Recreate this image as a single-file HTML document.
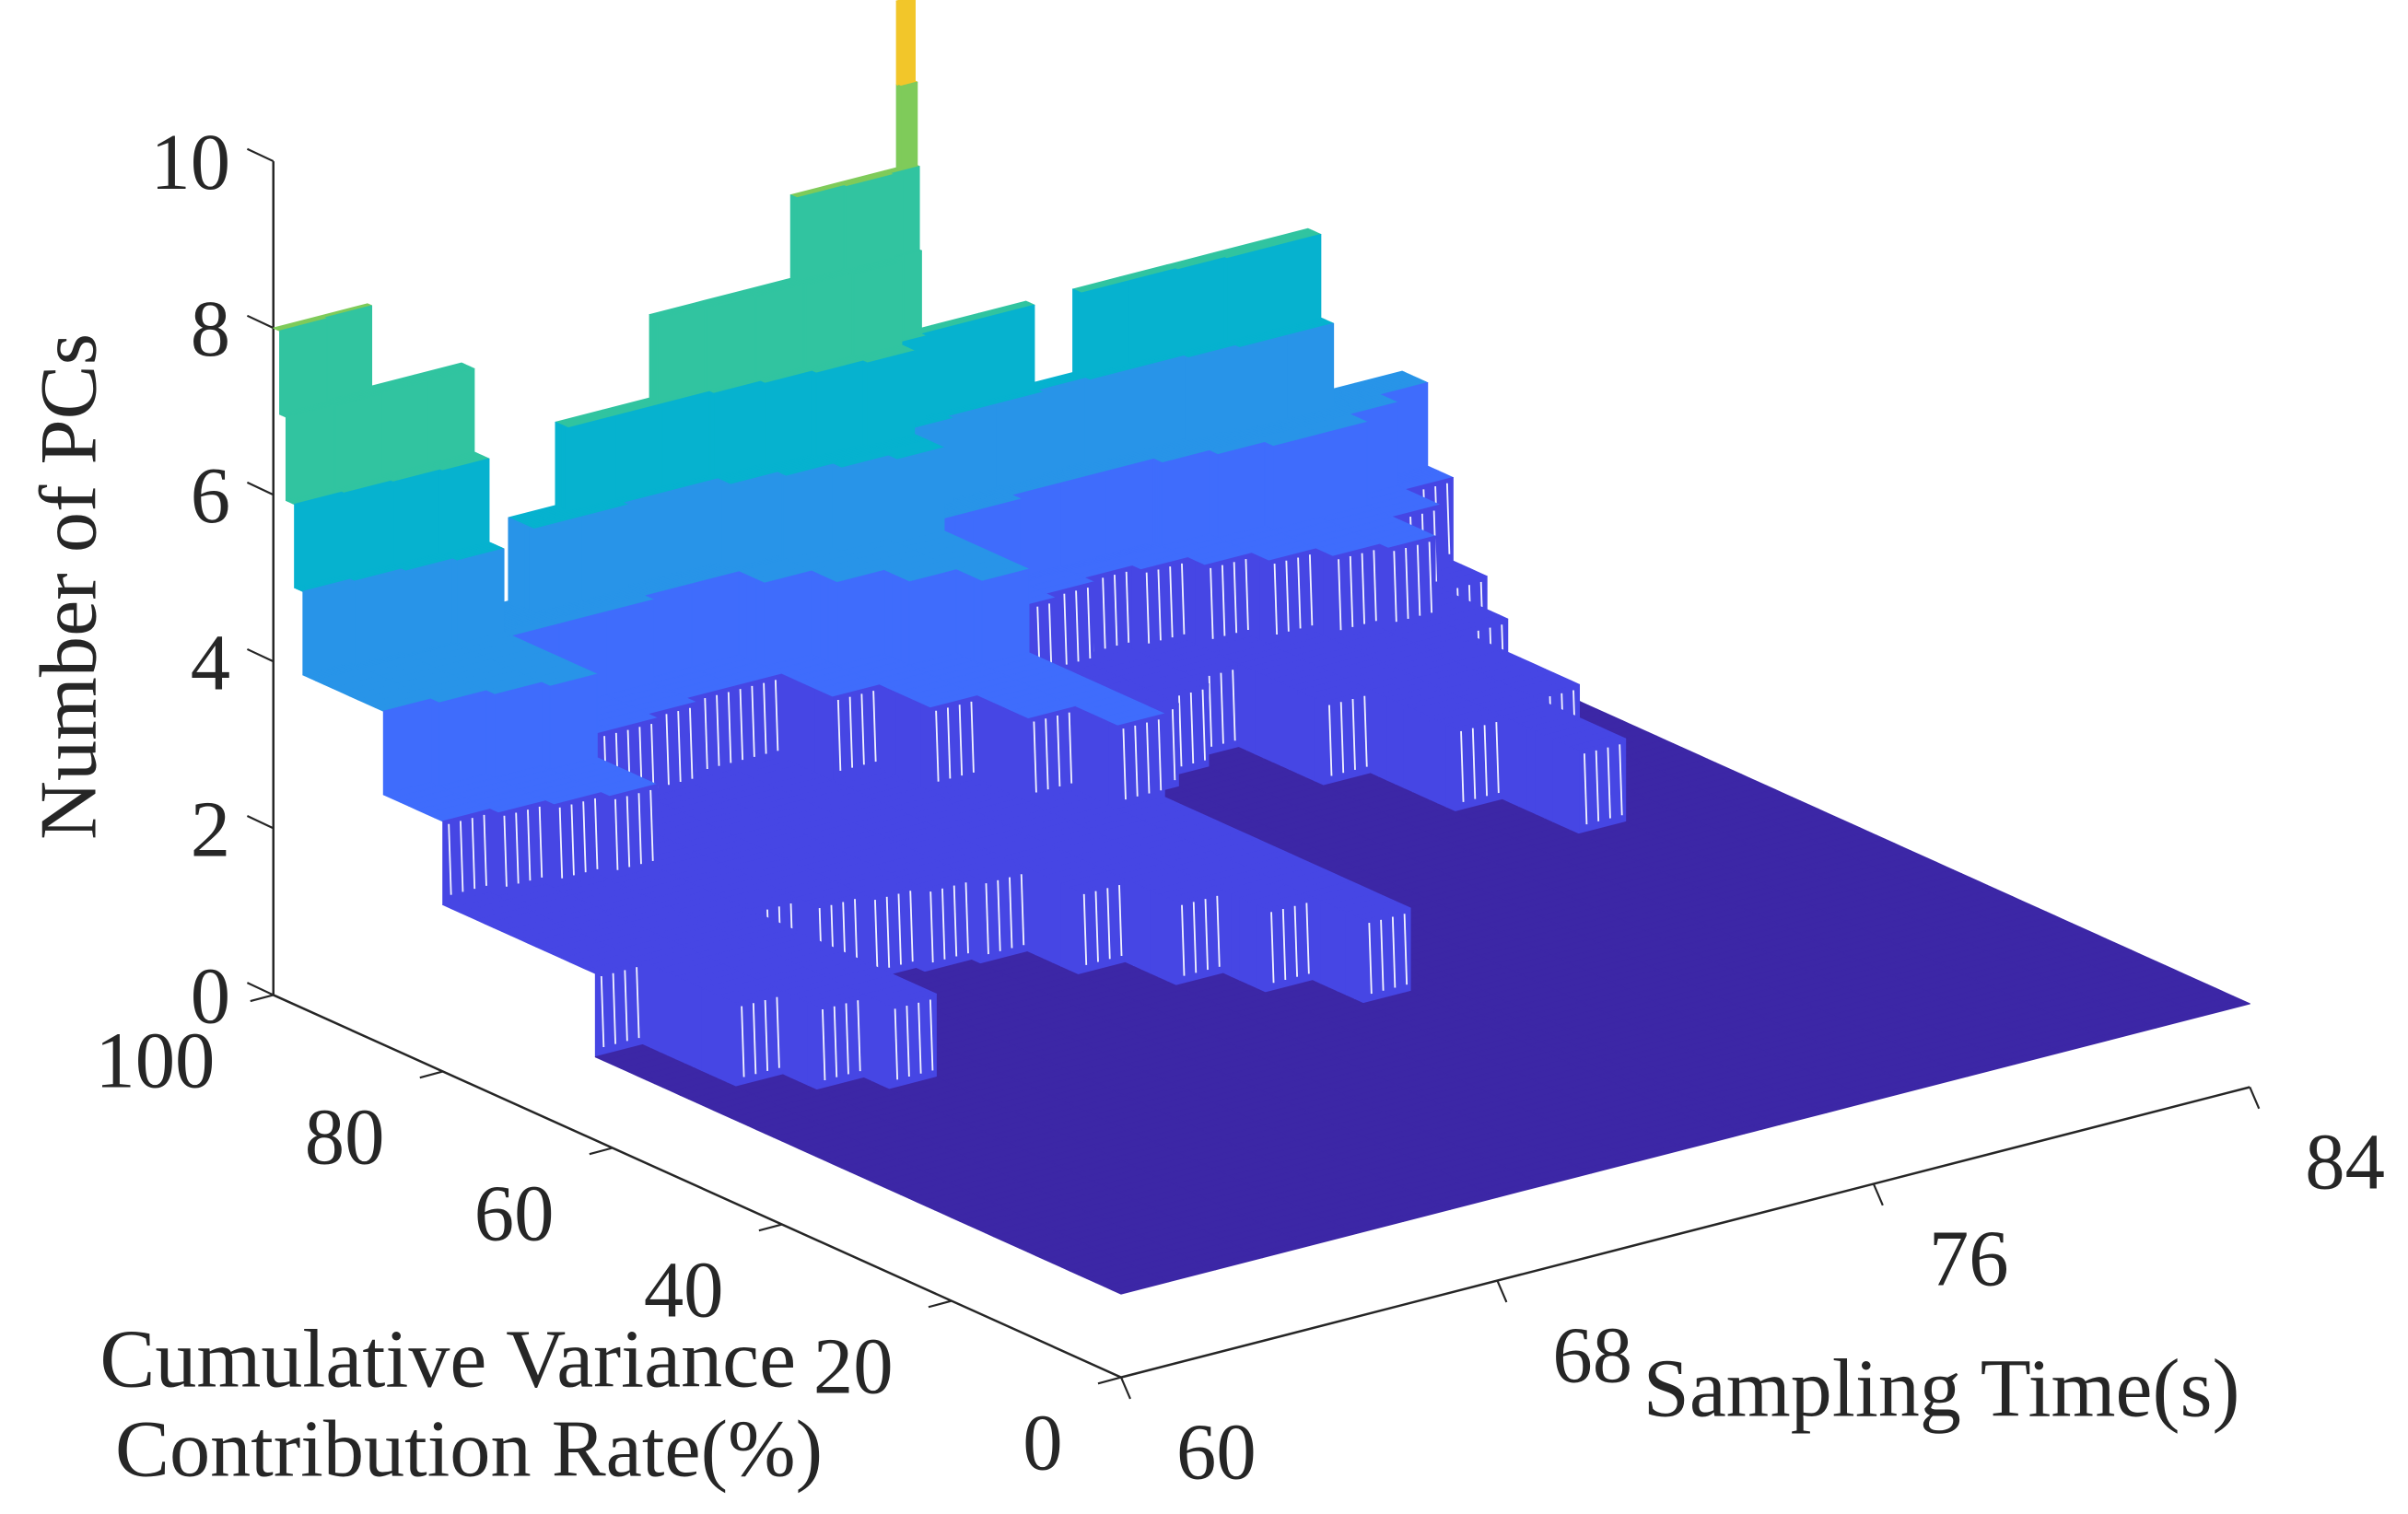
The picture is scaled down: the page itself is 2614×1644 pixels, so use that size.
<!DOCTYPE html>
<html>
<head>
<meta charset="utf-8">
<style>
  html,body{margin:0;padding:0;background:#fff;}
  svg{display:block;}
  text{font-family:"Liberation Serif","DejaVu Serif",serif;fill:#262626;}
</style>
</head>
<body>
<svg id="chart" xmlns="http://www.w3.org/2000/svg" width="2614" height="1644" viewBox="0 0 1568 986" preserveAspectRatio="none">
  <rect x="0" y="0" width="1568" height="986" fill="#ffffff"/>
  <g id="axes"></g>
  <g id="surface"></g>
  <g id="labels"></g>
  <text transform="translate(62,382) rotate(-90)" text-anchor="middle" font-size="53">Number of PCs</text>
  <text x="65" y="903" font-size="54">Cumulative Variance</text>
  <text x="75" y="961" font-size="53">Contribution Rate(%)</text>
  <text x="1070" y="922" font-size="54">Sampling Time(s)</text>
</svg>
<script>
// ---- data ----
const times = [60,61,62,63,64,65,66,67,68,69,70,71,72,73,73.25,73.6,74,75,76,77,78,79,80,81,82,83];
const cv1 = [62,51,47,44,66,64,63,62,61,55,49,44,38,78,78,78,80,82,84,86,76,66,57,68,82,90];
const cv2 = [80,79,78,77,88,88,89,90,90,84,78,72,67,90,90,90,91,92,93,92,90,88,86,85,90,94];
const cv3 = [87,86,85,84,94,94,94,95,95,92,89,86,83,95,95,95,95,96,96,96,95,94,93,93,95,97];
const cv4 = [96.4,96,95.5,95,100,97,97,97.5,97.5,96,95,94,93,97.5,97.5,97.5,98,98,98.5,98,98,97.5,97,97,100,100];
const cv5 = [97.6,97.3,97,96.8,100,100,98.5,98.5,98.5,98,97.5,97,96.5,98.5,98.5,99,99,99,100,99,99,98.75,98.5,98.5,100,100];
const cv6 = [98.5,98.25,98.5,98.5,100,100,100,100,99,98.75,98.5,98.25,98,99,99,100,100,100,100,100,100,100,100,100,100,100];
const cv7 = [99.25,99.5,100,100,100,100,100,100,100,100,100,99.25,99,99.25,99.25,100,100,100,100,100,100,100,100,100,100,100];
const cv8 = [100,100,100,100,100,100,100,100,100,100,100,100,100,100,99.5,100,100,100,100,100,100,100,100,100,100,100];
const cv9 = [100,100,100,100,100,100,100,100,100,100,100,100,100,100,99.75,100,100,100,100,100,100,100,100,100,100,100];
const zTicks = [0,2,4,6,8,10];
const cTicks = [100,80,60,40,20,0];
const tTicks = [60,68,76,84];
const tEnd = 84;

// ---- projection ----
const NS = "http://www.w3.org/2000/svg";
function X(c,t){return 178+(100-c)*5.52+(t-60)*30.625;}
function Y(c,t,z){return 648+(100-c)*2.49-(t-60)*7.875-z*54.3;}
const T = {1:"#3c27a6",2:"#4646e4",3:"#3f6cfc",4:"#2894e8",5:"#06b2cf",6:"#31c4a0",7:"#31c4a0",8:"#7fcb5a",9:"#f2c62a",10:"#f2c62a"};
function wallColor(bottom){return bottom<2?T[2]:T[bottom];}
const cvAll = [cv1,cv2,cv3,cv4,cv5,cv6,cv7,cv8,cv9];
function zAt(j,c){let n=1;for(const a of cvAll){if(a[j]<c)n++;}return n;}

const axes = document.getElementById('axes');
const labels = document.getElementById('labels');
const surf = document.getElementById('surface');
function line(parent,x1,y1,x2,y2,name,w){
  const l=document.createElementNS(NS,'line');
  l.setAttribute('x1',x1);l.setAttribute('y1',y1);l.setAttribute('x2',x2);l.setAttribute('y2',y2);
  l.setAttribute('stroke','#262626');l.setAttribute('stroke-width',w||1.5);
  
  
  parent.appendChild(l);return l;
}
function label(x,y,txt,anchor,name){
  const t=document.createElementNS(NS,'text');
  t.setAttribute('x',x);t.setAttribute('y',y);t.setAttribute('text-anchor',anchor);t.setAttribute('font-size','52');
  t.textContent=txt;
  
  
  labels.appendChild(t);
}
line(axes,X(100,60),Y(100,60,10),X(100,60),Y(100,60,0),'z-axis-line');
line(axes,X(100,60),Y(100,60,0),X(0,60),Y(0,60,0),'c-axis-line');
line(axes,X(0,60),Y(0,60,0),X(0,84),Y(0,84,0),'t-axis-line');
zTicks.forEach(v=>{
  const x=X(100,60),y=Y(100,60,v);
  line(axes,x-17,y-8,x,y,'z-tick',1.3);
  label(x-28,y+18,String(v),'end','z-tick-label');
});
cTicks.forEach(v=>{
  const x=X(v,60),y=Y(v,60,0);
  line(axes,x,y,x-15,y+4,'c-tick',1.3);
  label(x-38,y+60,String(v),'end','c-tick-label');
});
tTicks.forEach(v=>{
  const x=X(0,v),y=Y(0,v,0);
  line(axes,x,y,x+6,y+14,'t-tick',1.3);
  label(x+62,y+66,String(v),'middle','t-tick-label');
});

// ---- surface ----
const cEdges=[];
for(let c=0;c<95;c+=1)cEdges.push(c);
for(let c=95;c<=100.0001;c+=0.25)cEdges.push(+c.toFixed(2));
const nR=cEdges.length-1, nJ=times.length;
const H=[];
for(let r=0;r<nR;r++){H.push([]);const cm=(cEdges[r]+cEdges[r+1])/2;for(let j=0;j<nJ;j++)H[r].push(zAt(j,cm));}
function poly(pts,fill,name){
  const p=document.createElementNS(NS,'polygon');
  p.setAttribute('points',pts.map(q=>q[0].toFixed(2)+','+q[1].toFixed(2)).join(' '));
  p.setAttribute('fill',fill);p.setAttribute('stroke',fill);p.setAttribute('stroke-width','0.7');p.setAttribute('stroke-linejoin','round');
  
  
  surf.appendChild(p);
}
function P(c,t,z){return [X(c,t),Y(c,t,z)];}
for(let r=nR-1;r>=0;r--){
  const c0=cEdges[r],c1=cEdges[r+1];
  for(let j=nJ-1;j>=0;j--){
    const z=H[r][j],t0=times[j],t1=(j<nJ-1?times[j+1]:tEnd);
    poly([P(c0,t0,z),P(c0,t1,z),P(c1,t1,z),P(c1,t0,z)],T[z],'surface-top');
    const zf=r>0?H[r-1][j]:1;
    for(let k=zf+1;k<=z;k++){
      poly([P(c0,t0,k-1),P(c0,t1,k-1),P(c0,t1,k),P(c0,t0,k)],wallColor(k-1),'surface-front-wall');
      if(k<=3){
        const wpx=(t1-t0)*30.625;
        const n=Math.max(1,Math.round(wpx/8));
        for(let s=0;s<n;s++){
          const tt=t0+(t1-t0)*(s+0.5)/n;
          const a=P(c0,tt,k-0.05),b=P(c0,tt,k-1+0.1);
          const l=document.createElementNS(NS,'line');
          l.setAttribute('x1',a[0]);l.setAttribute('y1',a[1]);l.setAttribute('x2',b[0]+1.5);l.setAttribute('y2',b[1]);
          l.setAttribute('stroke','#f2f2ff');l.setAttribute('stroke-width','1.1');
          
          
          surf.appendChild(l);
        }
      }
    }
    if(j>0){
      const zl=H[r][j-1];
      for(let k=zl+1;k<=z;k++){
        poly([P(c0,t0,k-1),P(c1,t0,k-1),P(c1,t0,k),P(c0,t0,k)],wallColor(k-1),'surface-side-wall');
      }
    }
  }
}
</script>
</body>
</html>
